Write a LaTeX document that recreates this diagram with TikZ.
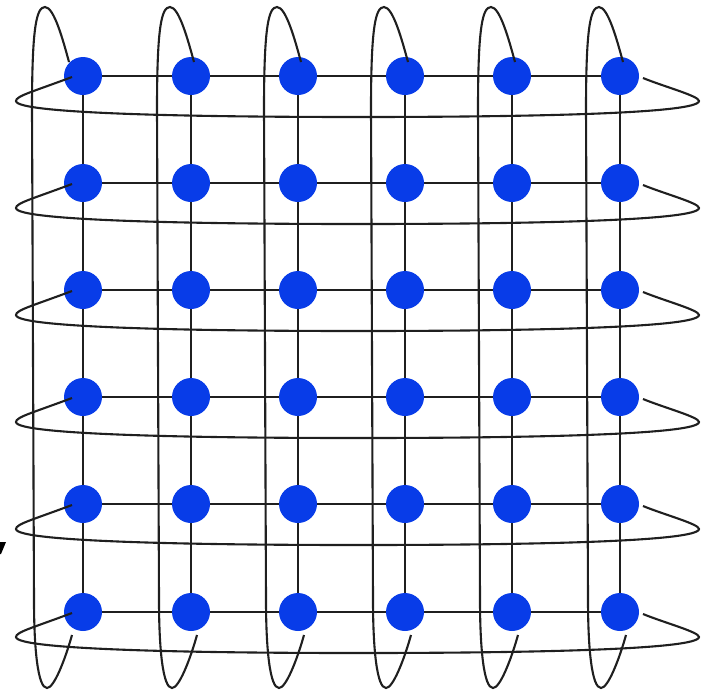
\documentclass[tikz,border=0pt]{standalone}
\definecolor{nodeblue}{RGB}{8,60,232}
\tikzset{
  dot/.style={circle,fill=nodeblue,draw=none,minimum size=38pt,inner sep=0pt},
  gridline/.style={line width=2.3pt,black!88},
  wrap/.style={line width=2.1pt,black!88}
}
\begin{document}
\begin{tikzpicture}[x=1pt,y=-1pt]
\useasboundingbox (0,0) rectangle (703,691);
% positions
\foreach \c/\x in {1/83,2/191,3/298,4/405,5/512,6/620}
  \foreach \r/\y in {1/76,2/183,3/290,4/397,5/504,6/612}
    \coordinate (p\c\r) at (\x,\y);
% grid lines
\foreach \r in {1,...,6}
  \draw[gridline] (p1\r) -- (p6\r);
\foreach \c in {1,...,6}
  \draw[gridline] (p\c1) -- (p\c6);
% nodes
\foreach \c in {1,...,6}
  \foreach \r in {1,...,6}
    \node[dot] (n\c\r) at (p\c\r) {};
% row wrap-around loops
\foreach \r/\y in {1/76,2/183,3/290,4/397,5/504,6/612}{
  \coordinate (ls\r) at (72,\y+1);
  \coordinate (re\r) at (643,\y+2);
  \draw[wrap] (ls\r) .. controls (32,\y+16) and (16,\y+20) .. (16,\y+25)
     .. controls (16,\y+38) and (200,\y+41) .. (358,\y+41)
     .. controls (520,\y+41) and (699,\y+38) .. (699,\y+25)
     .. controls (699,\y+20) and (665,\y+11) .. (re\r);
}
% column wrap-around loops
\foreach \c/\x/\s in {1/83/-17,2/191/0,3/298/0,4/405/0,5/512/0,6/620/0}{
  \pgfmathsetmacro\X{\x+\s}
  \coordinate (ct\c) at (\X+3,62);
  \coordinate (cb\c) at (\X+6,635);
  \draw[wrap] (ct\c) .. controls (\X-3,40) and (\X-12,7) .. (\X-21,7)
     .. controls (\X-30,7) and (\X-34,30) .. (\X-34,110)
     -- (\X-32,600)
     .. controls (\X-32,650) and (\X-28,688) .. (\X-19,688)
     .. controls (\X-12,688) and (\X-1,660) .. (cb\c);
}
% small mark at the left edge
\fill[black] (0,542) -- (6,542) -- (1,554) -- (0,554) -- cycle;
\end{tikzpicture}
\end{document}
